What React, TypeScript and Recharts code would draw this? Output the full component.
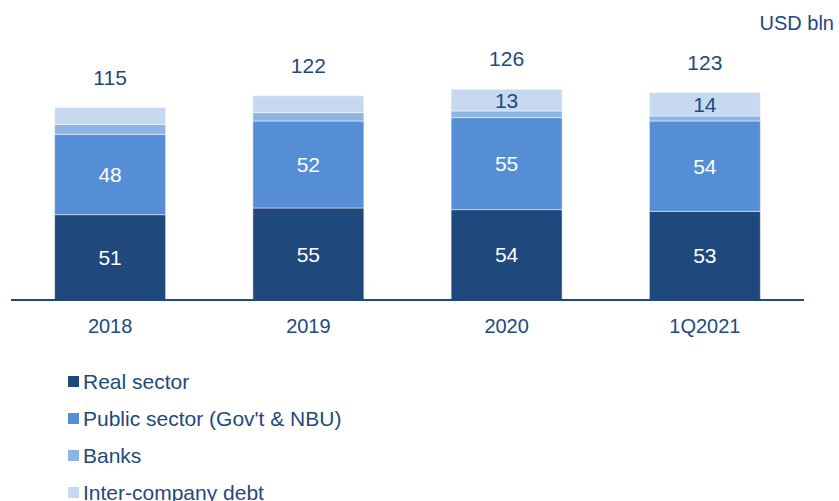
import React from 'react';
import { BarChart, Bar, XAxis, YAxis, LabelList, Legend } from 'recharts';

const categories = ['2018', '2019', '2020', '1Q2021'];
const realSector = [51, 55, 54, 53];
const publicSector = [48, 52, 55, 54];
const banks = [6, 5, 4, 3];
const interCompany = [10, 10, 13, 14];
const interLabels = ['', '', '13', '14'];
const totals = [115, 122, 126, 123];

const seriesNames = ['Real sector', "Public sector (Gov't & NBU)", 'Banks', 'Inter-company debt'];
const seriesColors = ['#1F497D', '#558ED5', '#8DB4E2', '#C6D9F1'];

const data = categories.map((c, i) => ({
  cat: c,
  real: realSector[i],
  pub: publicSector[i],
  banks: banks[i],
  inter: interCompany[i],
  interLabel: interLabels[i],
  total: totals[i],
}));

const FONT = '"Liberation Sans", Arial, sans-serif';
const TEXT = '#1F497D';

const InnerLabel = (props: any) => {
  const { x, y, width, height, value } = props;
  return (
    <text x={x + width / 2} y={y + height / 2} dy="0.36em" textAnchor="middle" fill="#FFFFFF" fontSize={21} fontFamily={FONT}>
      {value}
    </text>
  );
};

const InterLabel = (props: any) => {
  const { x, y, width, height, value } = props;
  if (!value) return null;
  return (
    <text x={x + width / 2} y={y + height / 2} dy="0.36em" textAnchor="middle" fill={TEXT} fontSize={21} fontFamily={FONT}>
      {value}
    </text>
  );
};

const TotalLabel = (props: any) => {
  const { x, y, width, value } = props;
  return (
    <text x={x + width / 2} y={y - 23} textAnchor="middle" fill={TEXT} fontSize={21} fontFamily={FONT}>
      {value}
    </text>
  );
};

const XTick = (props: any) => {
  const { x, y, payload } = props;
  return (
    <text x={x} y={y + 33} textAnchor="middle" fill={TEXT} fontSize={20} fontFamily={FONT}>
      {payload.value}
    </text>
  );
};

const LegendContent = () => (
  <div style={{ fontFamily: FONT, fontSize: 21, color: TEXT }}>
    {seriesNames.map((n, i) => (
      <div key={n} style={{ height: 37, lineHeight: '37px', display: 'flex', alignItems: 'center', whiteSpace: 'nowrap' }}>
        <span style={{ display: 'inline-block', width: 11, height: 11, background: seriesColors[i], marginLeft: 68, marginRight: 4 }} />
        <span>{n}</span>
      </div>
    ))}
  </div>
);

export default function App() {
  return (
    <div style={{ position: 'absolute', left: 0, top: 0, width: 839, height: 501, background: '#fff' }}>
      <div style={{ position: 'absolute', right: 5, top: 13, fontFamily: FONT, fontSize: 20, lineHeight: '20px', color: TEXT }}>
        USD bln
      </div>
      <BarChart
        width={839}
        height={501}
        data={data}
        margin={{ top: 49, right: 35, left: 11, bottom: 171 }}
        barCategoryGap="22%"
      >
        <XAxis
          dataKey="cat"
          height={30}
          axisLine={{ stroke: '#1F497D', strokeWidth: 2 }}
          tickLine={false}
          tickSize={0}
          tickMargin={0}
          tick={<XTick />}
          interval={0}
        />
        <YAxis hide domain={[0, 150]} />
        <Legend
          layout="vertical"
          align="center"
          verticalAlign="middle"
          content={<LegendContent />}
          wrapperStyle={{ left: 0, top: 363, width: 420, height: 150 }}
        />
        <Bar dataKey="real" stackId="a" fill={seriesColors[0]} stroke="#FFFFFF" strokeWidth={0.5} isAnimationActive={false}>
          <LabelList dataKey="real" content={<InnerLabel />} />
        </Bar>
        <Bar dataKey="pub" stackId="a" fill={seriesColors[1]} stroke="#FFFFFF" strokeWidth={0.5} isAnimationActive={false}>
          <LabelList dataKey="pub" content={<InnerLabel />} />
        </Bar>
        <Bar dataKey="banks" stackId="a" fill={seriesColors[2]} stroke="#FFFFFF" strokeWidth={0.5} isAnimationActive={false} />
        <Bar dataKey="inter" stackId="a" fill={seriesColors[3]} stroke="#FFFFFF" strokeWidth={0.5} isAnimationActive={false}>
          <LabelList dataKey="interLabel" content={<InterLabel />} />
          <LabelList dataKey="total" content={<TotalLabel />} />
        </Bar>
      </BarChart>
    </div>
  );
}
